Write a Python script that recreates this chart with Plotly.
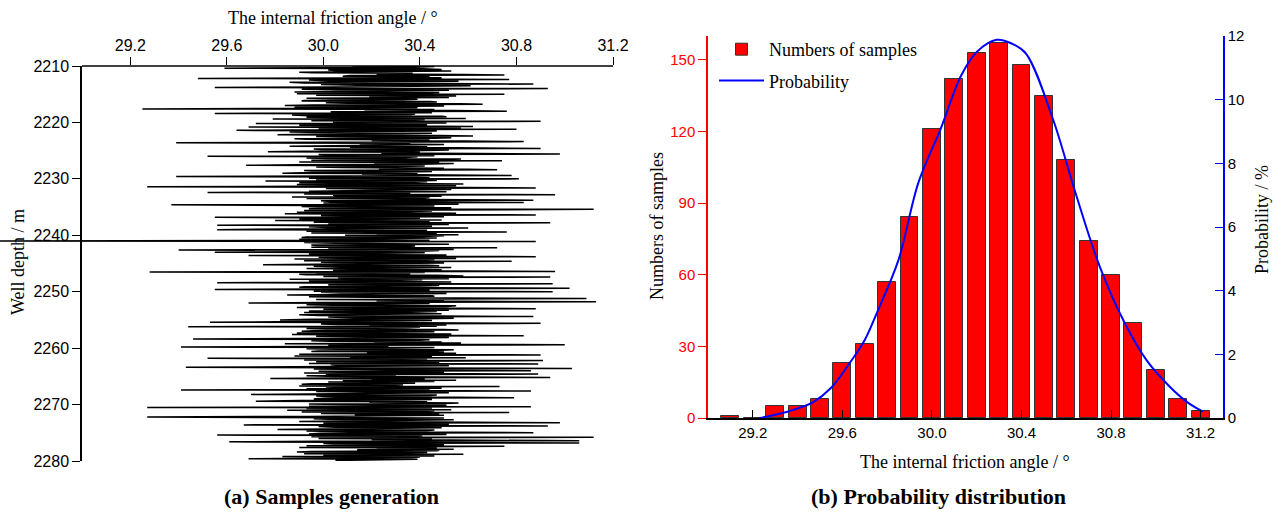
import plotly.graph_objects as go

# ---------------- data: (a) samples generation ----------------
depth_start = 2210.0
depth_step = 0.1
angle_samples = [
    30.12, 30.46, 30.38, 29.97, 29.59, 30.41, 30.49, 30.02, 30.05, 30.53, 30.31, 29.90, 29.96, 30.37, 30.22, 30.58, 30.75, 30.11, 30.08, 30.44,
    30.21, 30.49, 29.48, 30.33, 30.77, 29.94, 30.02, 30.56, 30.35, 29.86, 29.92, 30.47, 30.87, 29.99, 30.14, 30.61, 30.44, 30.04, 29.55, 30.40,
    30.93, 29.91, 30.06, 30.52, 30.28, 29.95, 29.88, 30.48, 30.41, 29.89, 30.75, 30.07, 29.97, 30.55, 30.19, 30.43, 30.52, 29.93, 30.03, 30.39,
    30.33, 29.92, 29.91, 30.44, 30.47, 30.01, 30.10, 30.57, 30.66, 29.96, 29.84, 30.50, 30.26, 29.88, 30.39, 30.00, 29.25, 30.46, 30.17, 30.54,
    30.76, 30.03, 30.09, 30.45, 29.55, 30.38, 30.36, 29.87, 29.94, 30.49, 30.51, 29.93, 30.13, 30.59, 29.79, 30.42, 30.29, 29.95, 30.90, 30.06,
    30.04, 30.51, 29.72, 30.35, 30.43, 29.90, 30.18, 30.62, 29.69, 30.41, 30.57, 29.98, 30.80, 30.05, 29.64, 30.47, 30.25, 29.86, 30.01, 30.45,
    30.32, 29.94, 29.81, 30.48, 30.62, 29.97, 30.07, 30.53, 30.46, 29.88, 29.93, 30.44, 30.20, 30.58, 30.83, 30.02, 29.39, 30.36, 30.15, 30.50,
    30.27, 29.90, 29.86, 30.43, 30.11, 30.55, 30.90, 29.96, 29.99, 30.52, 30.37, 29.92, 29.77, 30.40, 30.24, 30.63, 30.98, 29.98, 30.05, 30.46,
    29.52, 30.39, 30.34, 29.93, 30.02, 30.57, 30.49, 29.95, 30.74, 30.06, 29.90, 30.48, 30.21, 30.54, 30.40, 29.89, 29.68, 30.42, 30.30, 29.97,
    30.08, 30.50, 30.23, 30.60, 30.72, 29.92, 29.95, 30.45, 30.35, 29.91, 29.83, 30.39, 30.16, 30.52, 30.78, 30.03, 29.39, 30.34, 30.44, 29.94,
    30.81, 29.97, 30.00, 30.47, 29.76, 30.43, 30.38, 29.90, 30.12, 30.58, 29.89, 30.46, 30.55, 29.95, 29.27, 30.41, 30.88, 30.01, 30.19, 30.53,
    30.26, 29.96, 29.94, 30.51, 29.52, 30.36, 30.31, 29.92, 30.96, 30.04, 30.06, 30.49, 29.87, 30.44, 30.42, 29.93, 30.14, 30.57, 30.87, 29.99,
    30.03, 30.48, 30.83, 30.00, 30.20, 30.56, 29.37, 30.40, 30.46, 29.91, 29.98, 30.53, 30.29, 29.94, 31.12, 30.07, 29.92, 30.45, 30.35, 29.89,
    30.13, 30.55, 29.84, 30.42, 30.88, 29.99, 30.24, 30.50, 29.55, 30.37, 30.40, 29.90, 30.07, 30.49, 29.80, 30.44, 30.33, 29.96, 30.94, 30.02,
    30.18, 30.52, 29.56, 30.39, 30.45, 29.94, 30.02, 30.60, 30.37, 29.88, 29.56, 30.43, 30.27, 29.93, 30.76, 30.05, 29.95, 30.47, 30.22, 30.56,
    30.09, 30.50, 30.41, 29.93, 29.91, 30.47, 30.30, 29.90, 30.16, 30.44, 28.66, 30.88, 30.12, 29.92, 30.05, 30.45, 30.52, 29.95, 29.97, 30.38,
    30.34, 29.95, 30.72, 30.02, 30.10, 30.54, 29.40, 30.48, 30.43, 29.91, 29.55, 30.42, 30.21, 29.94, 30.01, 30.51, 29.69, 30.44, 30.88, 29.98,
    30.15, 30.55, 29.88, 30.46, 30.39, 29.92, 30.78, 30.01, 29.99, 30.50, 30.26, 29.89, 29.75, 30.43, 30.48, 29.96, 30.07, 30.53, 30.32, 29.93,
    30.20, 30.49, 30.04, 30.57, 30.96, 29.28, 30.42, 29.97, 30.36, 29.90, 29.93, 30.47, 30.58, 30.00, 30.94, 30.06, 30.11, 30.52, 29.86, 30.41,
    30.27, 29.94, 30.12, 30.53, 29.56, 30.41, 30.95, 30.03, 30.02, 30.48, 30.40, 29.92, 29.90, 30.46, 31.02, 30.00, 29.55, 30.44, 30.30, 29.96,
    30.95, 29.99, 30.07, 30.51, 30.33, 29.91, 29.85, 30.45, 30.46, 29.94, 30.14, 30.56, 31.09, 30.03, 29.97, 30.50, 30.22, 30.58, 31.13, 30.01,
    29.69, 30.44, 30.28, 29.93, 30.04, 30.55, 30.51, 29.97, 29.89, 30.43, 30.88, 30.00, 30.17, 30.52, 29.94, 30.47, 30.36, 29.92, 30.10, 30.49,
    30.25, 29.90, 29.98, 30.48, 30.87, 30.02, 30.13, 30.54, 30.42, 29.95, 29.82, 30.45, 30.31, 29.91, 29.53, 30.39, 30.90, 29.99, 30.06, 30.51,
    30.19, 30.47, 29.44, 30.40, 30.35, 29.93, 30.01, 30.50, 30.56, 29.96, 29.91, 30.46, 30.24, 29.89, 30.09, 30.53, 29.87, 30.42, 30.83, 29.97,
    30.14, 30.52, 30.32, 29.92, 29.46, 30.44, 30.40, 29.95, 30.03, 30.49, 30.21, 30.57, 29.84, 30.41, 31.00, 30.02, 30.27, 29.90, 29.41, 30.46,
    30.29, 29.93, 30.06, 30.54, 30.47, 29.98, 29.95, 30.50, 30.18, 30.55, 30.37, 29.90, 30.90, 30.04, 29.88, 30.45, 30.11, 30.59, 29.52, 30.43,
    30.23, 29.92, 30.91, 30.00, 29.97, 30.48, 30.34, 29.94, 30.89, 30.03, 30.05, 30.52, 30.26, 29.91, 29.43, 30.41, 31.03, 29.96, 30.12, 30.47,
    30.86, 29.98, 30.15, 30.50, 29.92, 30.44, 30.89, 30.01, 30.30, 29.93, 30.02, 30.48, 30.94, 30.05, 29.78, 30.42, 30.20, 30.55, 30.08, 30.46,
    30.02, 30.36, 30.38, 29.95, 29.91, 30.33, 30.24, 29.90, 30.73, 30.01, 30.10, 30.49, 29.93, 30.44, 29.41, 30.40, 30.86, 29.97, 30.17, 30.52,
    30.27, 29.92, 29.70, 30.47, 30.44, 29.97, 30.05, 30.55, 30.79, 30.00, 29.96, 30.45, 30.33, 29.90, 29.72, 30.43, 30.19, 30.56, 30.50, 29.94,
    30.08, 30.51, 30.31, 29.94, 30.86, 29.27, 30.45, 29.93, 30.22, 30.53, 29.85, 30.46, 30.40, 29.91, 30.77, 30.03, 29.99, 30.48, 30.13, 30.50,
    30.24, 29.94, 29.27, 30.42, 30.50, 29.96, 30.02, 30.54, 30.35, 29.92, 29.90, 30.47, 30.98, 30.00, 30.16, 30.52, 29.67, 30.45, 30.93, 29.98,
    30.05, 30.49, 30.29, 29.91, 29.81, 30.46, 30.43, 29.93, 30.11, 30.55, 30.87, 29.99, 29.94, 30.51, 29.56, 30.41, 30.36, 29.95, 31.12, 30.04,
    29.98, 30.45, 30.20, 30.53, 31.06, 29.97, 29.61, 30.44, 31.06, 30.00, 30.04, 30.50, 30.31, 29.93, 30.75, 30.02, 29.90, 30.47, 30.22, 30.54,
    30.14, 30.48, 30.47, 29.95, 29.89, 30.43, 30.28, 29.92, 30.58, 30.01, 30.00, 30.46, 29.83, 30.40, 30.37, 29.94, 29.69, 30.39, 30.25, 30.05,
]
depths = [depth_start + depth_step * i for i in range(len(angle_samples))]

depth_ticks = [2210, 2220, 2230, 2240, 2250, 2260, 2270, 2280]
angle_ticks = [29.2, 29.6, 30.0, 30.4, 30.8, 31.2]

# ---------------- data: (b) probability distribution ----------------
bin_centers = [29.1, 29.2, 29.3, 29.4, 29.5, 29.6, 29.7, 29.8, 29.9, 30.0, 30.1,
               30.2, 30.3, 30.4, 30.5, 30.6, 30.7, 30.8, 30.9, 31.0, 31.1, 31.2]
sample_counts = [1, 0, 5, 5, 8, 23, 31, 57, 84, 121, 142,
                 153, 157, 148, 135, 108, 74, 60, 40, 20, 8, 3]

prob_x = [29.23, 29.30, 29.40, 29.47, 29.55, 29.64, 29.70, 29.76, 29.85, 29.94,
          30.04, 30.13, 30.20, 30.29, 30.36, 30.42, 30.54, 30.64, 30.75, 30.86,
          30.96, 31.06, 31.14, 31.21]
prob_y = [0.0, 0.1, 0.3, 0.5, 0.95, 1.8, 2.45, 3.4, 4.95, 7.4,
          9.1, 10.75, 11.5, 11.88, 11.75, 11.45, 9.4, 7.1, 4.75, 3.0,
          1.8, 1.0, 0.5, 0.2]

count_ticks = [0, 30, 60, 90, 120, 150]
prob_ticks = [0, 2, 4, 6, 8, 10, 12]

# ---------------- layout helpers ----------------
W, H = 1277, 513
def px(x):
    return x / W
def py(y):
    return 1 - y / H

SERIF = "Liberation Serif, Times New Roman, serif"
SANS = "Liberation Sans, Arial, sans-serif"

fig = go.Figure()

fig.add_trace(go.Scatter(
    x=angle_samples, y=depths, mode="lines",
    line=dict(color="black", width=1.5),
    xaxis="x", yaxis="y", showlegend=False, hoverinfo="skip"))

fig.add_trace(go.Bar(
    x=bin_centers, y=sample_counts, width=0.08,
    marker=dict(color="#ff0000", line=dict(color="#333333", width=1)),
    name="Numbers of samples", legendgroup="a", xaxis="x2", yaxis="y2"))

fig.add_trace(go.Scatter(
    x=prob_x, y=prob_y, mode="lines",
    line=dict(color="#0000ff", width=2, shape="spline", smoothing=1.0),
    name="Probability", legendgroup="b", xaxis="x2", yaxis="y3"))

fig.update_layout(
    width=W, height=H,
    margin=dict(l=0, r=0, t=0, b=0, autoexpand=False),
    paper_bgcolor="white", plot_bgcolor="rgba(0,0,0,0)",
    font=dict(family=SANS, size=15, color="black"),
    bargap=0,
    xaxis=dict(domain=[0, px(613)], range=[28.66, 31.2], side="top", anchor="y",
               tickvals=angle_ticks, tickformat=".1f", ticks="outside", ticklen=8,
               tickwidth=1.3, tickcolor="black", showline=False, showgrid=False,
               zeroline=False, automargin=False, tickfont=dict(family=SANS, size=16)),
    yaxis=dict(domain=[py(461), py(66)], range=[2280, 2210], anchor="free",
               position=px(81), tickvals=depth_ticks, ticks="outside", ticklen=8,
               tickwidth=1.3, tickcolor="black", showline=True, linecolor="black",
               linewidth=1.5, showgrid=False, zeroline=False, automargin=False,
               tickfont=dict(family=SANS, size=16)),
    xaxis2=dict(domain=[px(708), px(1223)], range=[29.0, 31.3], anchor="y2",
                tickvals=angle_ticks, tickformat=".1f", ticks="inside", ticklen=8,
                tickwidth=1.3, tickcolor="black", showline=True, linecolor="black",
                linewidth=1.5, showgrid=False, zeroline=False, automargin=False,
                tickfont=dict(family=SANS, size=15)),
    yaxis2=dict(domain=[py(418), py(36)], range=[0, 160], anchor="x2",
                tickvals=count_ticks, ticks="outside", ticklen=8, tickwidth=1.3,
                tickcolor="#ff0000", showline=True, linecolor="#ff0000", linewidth=1.5,
                showgrid=False, zeroline=False, automargin=False,
                tickfont=dict(family=SANS, size=15, color="#ff0000")),
    yaxis3=dict(overlaying="y2", side="right", anchor="x2", range=[0, 12],
                tickvals=prob_ticks, ticks="inside", ticklen=8, tickwidth=1.3,
                tickcolor="#0000ff", showline=True, linecolor="#0000ff", linewidth=1.5,
                showgrid=False, zeroline=False, automargin=False,
                tickfont=dict(family=SANS, size=15, color="black")),
    legend=dict(x=px(714), y=py(31), xanchor="left", yanchor="top",
                bgcolor="rgba(0,0,0,0)", font=dict(family=SERIF, size=18),
                itemwidth=45, tracegroupgap=5),
)

# top axis line of panel (a), spanning the labelled angle range
fig.add_shape(type="line", xref="x", yref="y domain", x0=29.0, x1=31.2, y0=1, y1=1,
              line=dict(color="black", width=1.5))

annots = [
    dict(text="The internal friction angle / °", x=px(333), y=py(18), size=18, angle=0),
    dict(text="Well depth / m", x=px(18), y=py(262), size=18, angle=-90),
    dict(text="Numbers of samples", x=px(657), y=py(226), size=18, angle=-90),
    dict(text="Probability / %", x=px(1262), y=py(220), size=18, angle=-90),
    dict(text="The internal friction angle / °", x=px(965), y=py(462), size=18, angle=0),
    dict(text="<b>(a) Samples generation</b>", x=px(331), y=py(496), size=22, angle=0),
    dict(text="<b>(b) Probability distribution</b>", x=px(938), y=py(496), size=22, angle=0),
]
for a in annots:
    fig.add_annotation(text=a["text"], x=a["x"], y=a["y"], xref="paper", yref="paper",
                       xanchor="center", yanchor="middle", showarrow=False,
                       textangle=a["angle"], font=dict(family=SERIF, size=a["size"], color="black"))

fig.write_html("out.html")
